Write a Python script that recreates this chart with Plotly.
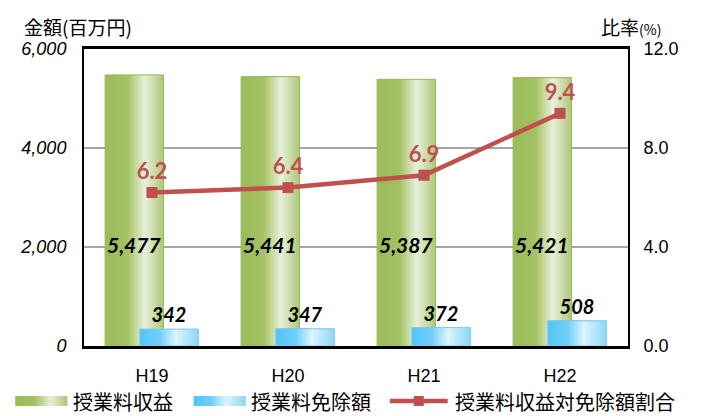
import plotly.graph_objects as go

# --- data ---
years = ["H19", "H20", "H21", "H22"]
tuition_revenue = [5477, 5441, 5387, 5421]      # 授業料収益 (百万円)
tuition_exemption = [342, 347, 372, 508]        # 授業料免除額 (百万円)
exemption_ratio = [6.2, 6.4, 6.9, 9.4]          # 授業料収益対免除額割合 (%)

GREEN_STOPS = [(0.0, "#9BBB59"), (0.38, "#A3C163"), (0.68, "#E8F0DB"), (1.0, "#AEC877")]
BLUE_STOPS = [(0.0, "#4FC4F6"), (0.35, "#73D0F8"), (0.62, "#DDF4FE"), (1.0, "#8CD8F8")]
RED = "#C0504D"
BAR_W = 0.43
N_STRIPS = 30

# page is drawn with the browser's 8px body margin, so plot box is set in page pixels
OFF = 8
BOX_L, BOX_R, BOX_T, BOX_B = 82, 628, 49, 346


def px(x):
    return (x - BOX_L) / (BOX_R - BOX_L)


def py(y):
    return (BOX_B - y) / (BOX_B - BOX_T)


def hex_to_rgb(h):
    h = h.lstrip("#")
    return [int(h[i:i + 2], 16) for i in (0, 2, 4)]


def color_at(stops, t):
    for (t0, c0), (t1, c1) in zip(stops, stops[1:]):
        if t0 <= t <= t1:
            f = (t - t0) / (t1 - t0)
            a, b = hex_to_rgb(c0), hex_to_rgb(c1)
            return "rgb({},{},{})".format(*[round(a[i] + (b[i] - a[i]) * f) for i in range(3)])
    return stops[-1][1]


def gradient_bars(fig, values, offset, stops, edge):
    """Fake a horizontal gradient: each strip runs to the right edge and covers the last one."""
    step = BAR_W / N_STRIPS
    for i in range(N_STRIPS):
        fig.add_trace(go.Bar(
            x=years, y=values, offset=offset + i * step, width=BAR_W - i * step,
            marker=dict(color=color_at(stops, (i + 0.5) / N_STRIPS), line=dict(width=0)),
            showlegend=False, hoverinfo="skip",
        ))
    fig.add_trace(go.Bar(
        x=years, y=values, offset=offset, width=BAR_W,
        marker=dict(color="rgba(0,0,0,0)", line=dict(color=edge, width=1)),
        showlegend=False,
    ))


fig = go.Figure()
gradient_bars(fig, tuition_revenue, -0.345, GREEN_STOPS, "#9BBB59")
gradient_bars(fig, tuition_exemption, -0.09, BLUE_STOPS, "#7FCBEF")

# labels on the exemption bars
fig.add_trace(go.Bar(
    x=years, y=tuition_exemption, offset=-0.09, width=BAR_W,
    marker=dict(color="rgba(0,0,0,0)", line=dict(width=0)),
    text=[f"{v:,}" for v in tuition_exemption], textposition="outside", cliponaxis=False,
    textfont=dict(family="Lato", size=20, color="black", weight="bold", style="italic"),
    showlegend=False, hoverinfo="skip",
))

fig.add_trace(go.Scatter(
    x=years, y=exemption_ratio, yaxis="y2", mode="lines+markers+text",
    line=dict(color=RED, width=4.5),
    marker=dict(symbol="square", size=11, color=RED),
    text=[f"{v:.1f}" for v in exemption_ratio], textposition="top center",
    textfont=dict(family="Lato", size=22, color=RED, weight="bold"),
    cliponaxis=False, showlegend=False,
))

# revenue values written inside the green bars
for yr, v in zip(years, tuition_revenue):
    fig.add_annotation(
        x=yr, y=2050, text=f"{v:,}", showarrow=False, xshift=-18,
        font=dict(family="Lato", size=21, color="black", weight="bold", style="italic"),
    )

# axis titles
fig.add_annotation(x=px(20), y=py(26), xref="paper", yref="paper", xanchor="left", yanchor="middle",
                   text="金額(百万円)", showarrow=False,
                   font=dict(family="Noto Sans CJK JP", size=19, color="black"))
fig.add_annotation(x=px(599), y=py(26), xref="paper", yref="paper", xanchor="left", yanchor="middle",
                   text="比率<span style='font-size:14px'>(%)</span>",
                   showarrow=False, font=dict(family="Noto Sans CJK JP", size=19, color="black"))

# custom legend along the bottom edge
LEG_Y = 401
legend_items = [
    ("授業料収益", GREEN_STOPS, 13, 69),
    ("授業料免除額", BLUE_STOPS, 192, 248),
]
for label, stops, x0, tx in legend_items:
    n = 16
    for i in range(n):
        fig.add_shape(type="rect", xref="paper", yref="paper",
                      x0=px(x0 + i * 52 / n), x1=px(x0 + 52),
                      y0=py(LEG_Y + 5), y1=py(LEG_Y - 5),
                      fillcolor=color_at(stops, (i + 0.5) / n), line=dict(width=0))
    fig.add_annotation(x=px(tx), y=py(LEG_Y), xref="paper", yref="paper",
                       xanchor="left", yanchor="middle", text=label, showarrow=False,
                       font=dict(family="Noto Sans CJK JP", size=20, color="black"))
fig.add_shape(type="line", xref="paper", yref="paper", x0=px(389), x1=px(447),
              y0=py(LEG_Y), y1=py(LEG_Y), line=dict(color=RED, width=4.5))
fig.add_shape(type="rect", xref="paper", yref="paper", x0=px(413), x1=px(423),
              y0=py(LEG_Y + 5), y1=py(LEG_Y - 5), fillcolor=RED, line=dict(width=0))
fig.add_annotation(x=px(452), y=py(LEG_Y), xref="paper", yref="paper",
                   xanchor="left", yanchor="middle", text="授業料収益対免除額割合", showarrow=False,
                   font=dict(family="Noto Sans CJK JP", size=20, color="black"))

fig.update_layout(
    width=702, height=416,
    margin=dict(l=BOX_L - OFF, r=702 - (BOX_R - OFF), t=BOX_T - OFF, b=416 - (BOX_B - OFF)),
    paper_bgcolor="white", plot_bgcolor="white",
    barmode="overlay", showlegend=False,
    xaxis=dict(showline=True, linecolor="black", linewidth=2.5, mirror=True, ticks="",
               tickfont=dict(family="Liberation Sans", size=18, color="black"),
               ticklabelstandoff=12, showgrid=False),
    yaxis=dict(range=[0, 6000], tickvals=[0, 2000, 4000, 6000], tickformat=",",
               showline=True, linecolor="black", linewidth=2, mirror=True,
               showgrid=True, gridcolor="#A6A6A6", gridwidth=1.5, zeroline=False,
               tickfont=dict(family="Liberation Sans", size=18, color="black", style="italic"),
               ticklabelstandoff=12),
    yaxis2=dict(range=[0, 12], tickvals=[0, 4, 8, 12], tickformat=".1f",
                overlaying="y", side="right", showgrid=False, zeroline=False,
                showline=True, linecolor="black", linewidth=2,
                tickfont=dict(family="Liberation Sans", size=18, color="black"),
                ticklabelstandoff=10),
)

fig.write_html("out.html")
